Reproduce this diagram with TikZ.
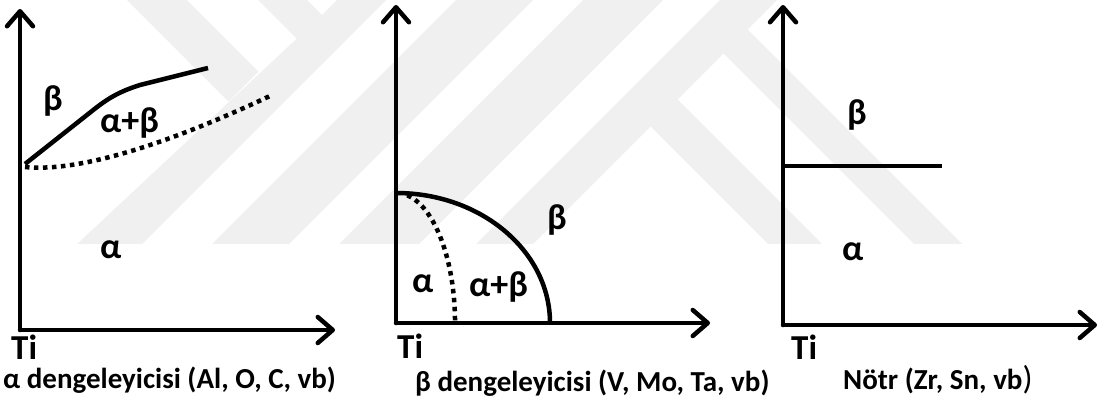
\documentclass[tikz,border=0pt]{standalone}
\usepackage{fontspec}
\setmainfont{Carlito}
\usetikzlibrary{arrows.meta}
\begin{document}
\begin{tikzpicture}[x=1pt,y=-1pt,
  axis/.style={line width=4.5pt, line cap=round, -{Straight Barb[length=15pt,width=26pt,round]}},
  curve/.style={line width=4.5pt},
  dotcurve/.style={line width=4.5pt, line cap=butt, dash pattern=on 4.5pt off 4.5pt},
  wm/.style={fill=black!6},
  greek/.style={font=\bfseries\fontsize{36}{36}\selectfont, inner sep=0pt, anchor=base west},
  tilbl/.style={font=\bfseries\fontsize{35}{35}\selectfont, inner sep=0pt, anchor=base west},
  caption/.style={font=\bfseries\fontsize{29}{29}\selectfont, inner sep=0pt, anchor=base west}
]
\useasboundingbox (0,0) rectangle (1103,405);
% faint background watermark
\begin{scope}
\clip (0,0) rectangle (1103,243);
\fill[wm] (60,260) -- (126,260) -- (396,-10) -- (347,-10) -- (322,15) -- cycle;
\fill[wm] (196,260) -- (273,260) -- (543,-10) -- (466,-10) -- cycle;
\fill[wm] (323,260) -- (403,260) -- (673,-10) -- (593,-10) -- cycle;
\fill[wm] (460,260) -- (517,260) -- (787,-10) -- (730,-10) -- cycle;
\fill[wm] (117,-10) -- (177,-10) -- (258.5,71.5) -- (228.5,101.5) -- cycle;
\fill[wm] (248,-10) -- (297,-10) -- (346.5,39.5) -- (322,64) -- cycle;
\fill[wm] (637,113) -- (664,86) -- (838,260) -- (784,260) -- cycle;
\fill[wm] (710,40) -- (734,16) -- (978,260) -- (930,260) -- cycle;
\end{scope}

% ---- plot 1: alpha stabilisers
\coordinate (o1) at (20,330);
\coordinate (y1) at (20,9);
\coordinate (x1) at (335,330);
\draw[axis] (o1) -- (y1);
\draw[axis] (o1) -- (x1);
\coordinate (p1s) at (25,164);
\coordinate (p1e) at (208,68);
\draw[curve] (p1s) -- (92,111) .. controls (107,99) and (118,92) .. (140,85) -- (p1e);
\coordinate (d1s) at (25,167);
\coordinate (d1e) at (272,95);
\draw[dotcurve] (d1s) .. controls (75,172) and (160,148) .. (d1e);
\node[greek] (b1) at (43,110) {β};
\node[greek] (ab1) at (100,132) {α+β};
\node[greek] (a1) at (100,258) {α};
\node[tilbl] (ti1) at (11,359) {Ti};
\node[caption] (c1) at (3,388) {α dengeleyicisi (Al, O, C, vb)};

% ---- plot 2: beta stabilisers
\coordinate (o2) at (396,323);
\coordinate (y2) at (396,5);
\coordinate (x2) at (710,323);
\draw[axis] (o2) -- (y2);
\draw[axis] (o2) -- (x2);
\coordinate (t2) at (396,193);
\draw[curve] (t2) arc[start angle=-90, end angle=0, x radius=154, y radius=130];
\coordinate (t2d) at (407.3,195.3);
\draw[dotcurve] (t2d) arc[start angle=-79, end angle=0, x radius=59, y radius=130];
\node[greek] (b2) at (547,229) {β};
\node[greek] (a2) at (412,292) {α};
\node[greek] (ab2) at (469,296) {α+β};
\node[tilbl] (ti2) at (397,358) {Ti};
\node[caption] (c2) at (415,391) {β dengeleyicisi (V, Mo, Ta, vb)};

% ---- plot 3: neutral
\coordinate (o3) at (783,325);
\coordinate (y3) at (783,5);
\coordinate (x3) at (1097,325);
\draw[axis] (o3) -- (y3);
\draw[axis] (o3) -- (x3);
\coordinate (h3s) at (783,166);
\coordinate (h3e) at (942,166);
\draw[curve] (h3s) -- (h3e);
\node[greek] (b3) at (847,124) {β};
\node[greek] (a3) at (842,260) {α};
\node[tilbl] (ti3) at (791,359) {Ti};
\node[caption] (c3) at (843,389) {Nötr (Zr, Sn, vb{\mdseries\fontsize{33}{33}\selectfont )}};
\end{tikzpicture}
\end{document}
